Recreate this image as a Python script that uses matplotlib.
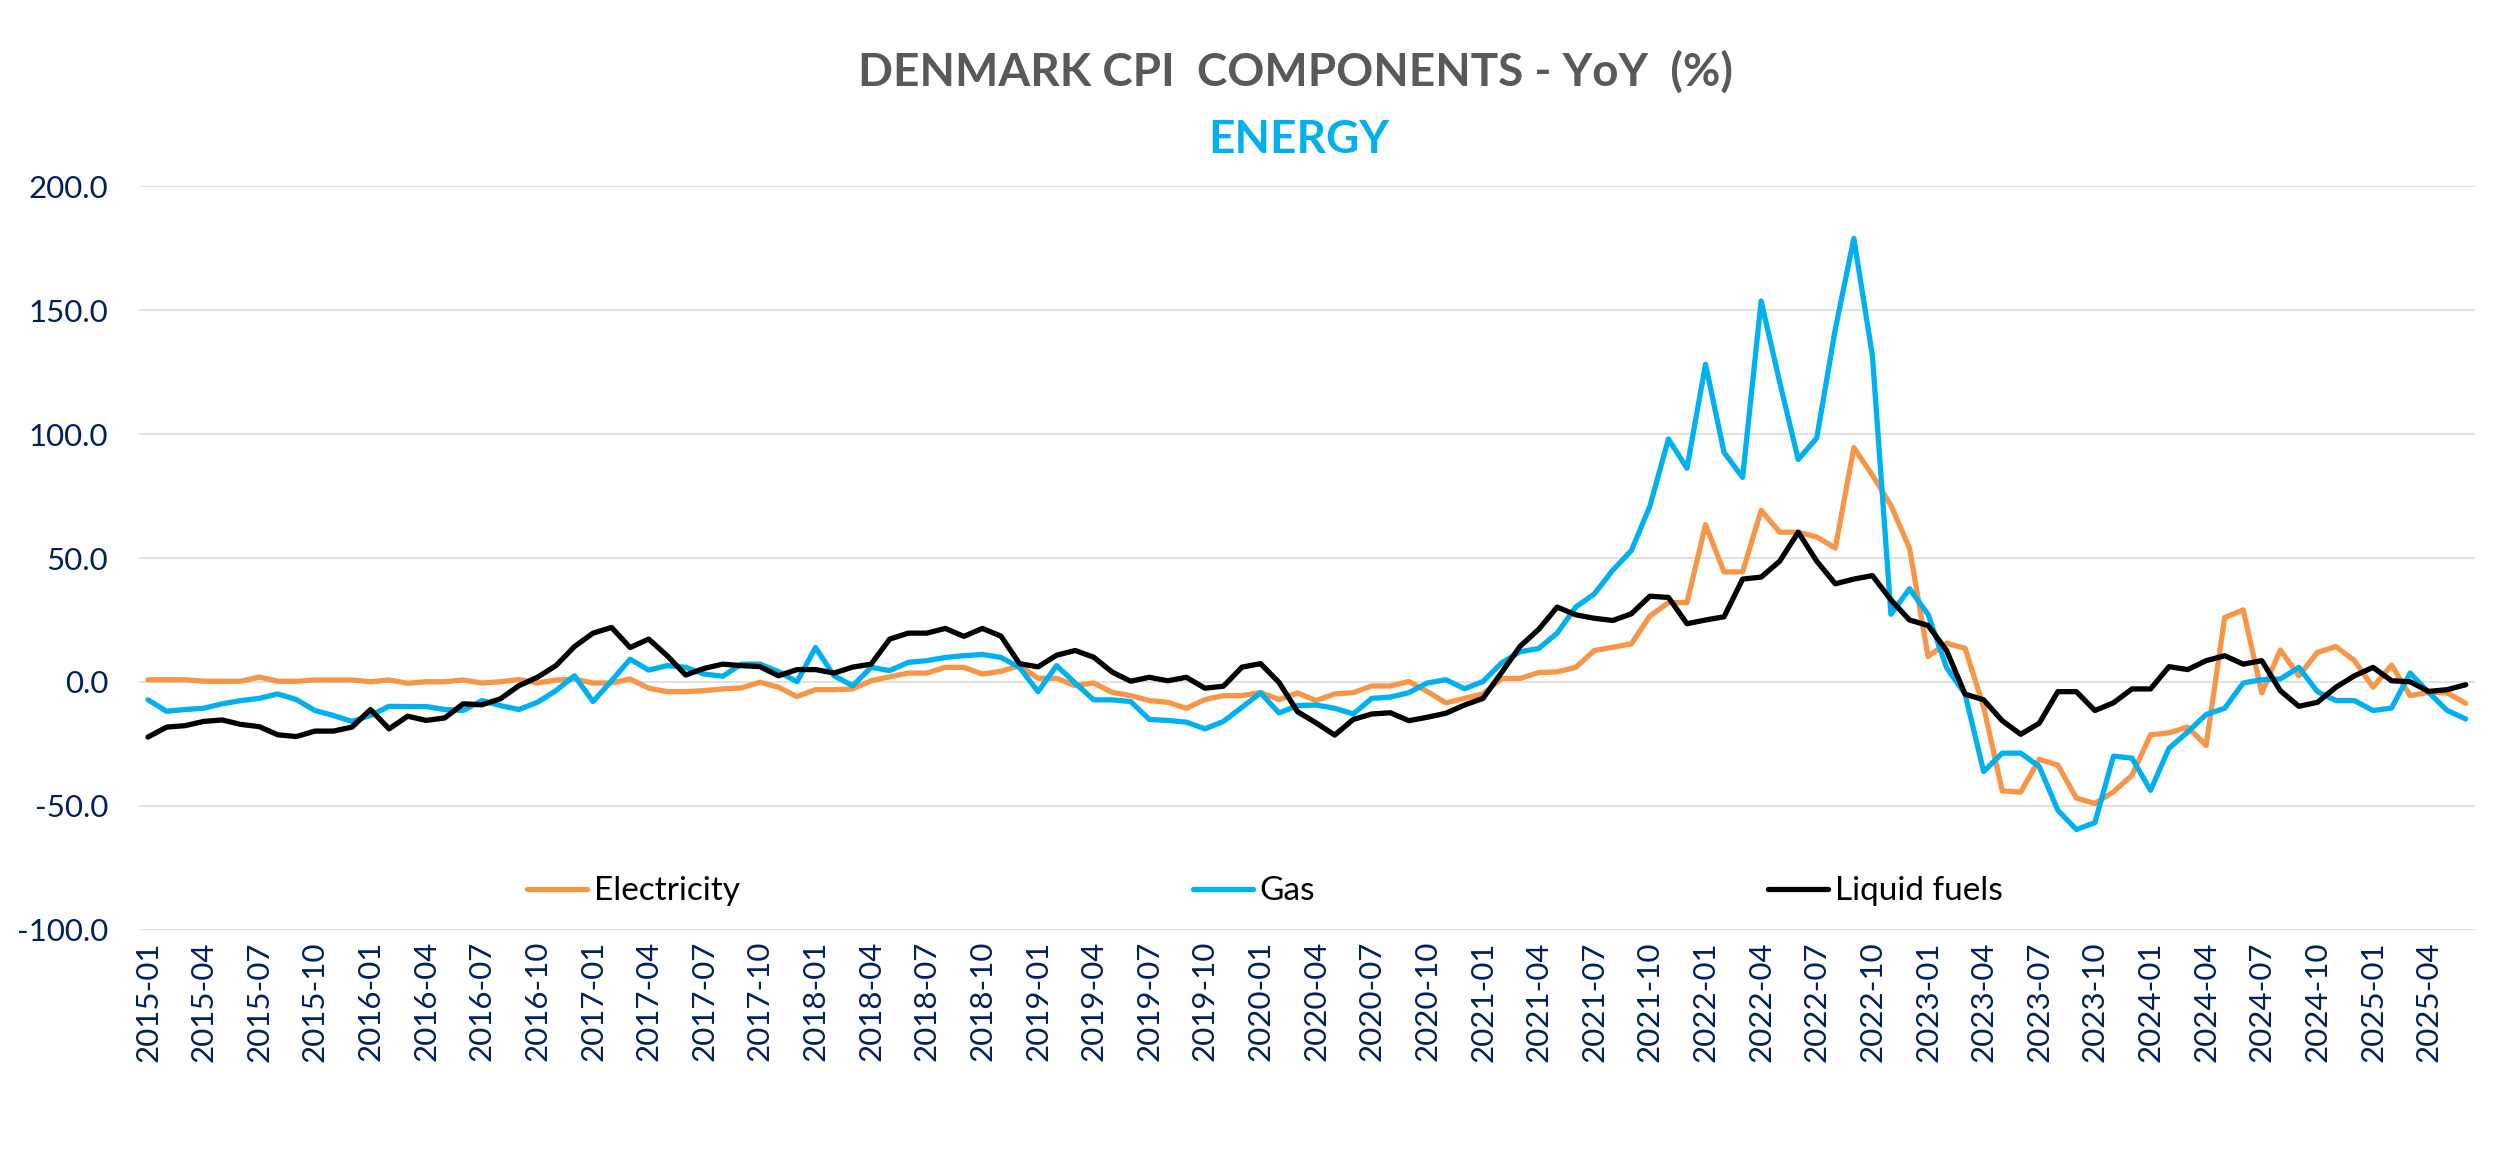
import matplotlib
matplotlib.use('Agg')
import matplotlib.pyplot as plt
from matplotlib.ticker import FormatStrFormatter
import numpy as np
import pandas as pd

plt.rcParams['font.family'] = ['Lato', 'DejaVu Sans']

# monthly YoY % change, 2015-01 .. 2025-06
months = [str(p) for p in pd.period_range('2015-01', '2025-06', freq='M')]

electricity = [
    0.9, 0.9, 0.9, 0.3, 0.3, 0.3, 2.0, 0.3, 0.3, 0.8, 0.8, 0.8,
    0.1, 0.8, -0.5, 0.1, 0.1, 0.8, -0.4, 0.1, 1.0, -0.4, 0.8, 1.2,
    -0.4, -0.4, 1.2, -2.5, -3.9, -3.9, -3.5, -2.8, -2.4, -0.1, -2.1, -5.9,
    -3.1, -3.1, -2.8, 0.5, 2.1, 3.6, 3.6, 5.9, 5.9, 3.2, 4.3, 6.6,
    1.5, 1.5, -1.5, -0.4, -4.2, -5.5, -7.5, -8.2, -10.6, -7.1, -5.5, -5.5,
    -4.2, -7.1, -4.4, -7.5, -4.8, -4.3, -1.6, -1.6, 0.2, -3.9, -8.4, -6.6,
    -4.8, 1.4, 1.4, 3.8, 4.1, 5.9, 12.7, 14.0, 15.4, 26.6, 32.0, 32.0,
    63.4, 44.4, 44.4, 69.2, 60.4, 60.4, 58.5, 54.0, 94.5, 83.4, 71.2, 54.0,
    10.3, 15.6, 13.6, -10.0, -43.9, -44.4, -31.2, -33.5, -46.8, -49.0, -44.3, -37.6,
    -21.3, -20.5, -18.2, -25.6, 26.0, 29.1, -4.4, 12.9, 2.5, 11.9, 14.3, 8.6,
    -2.1, 6.8, -5.5, -4.2, -4.4, -8.6,
]

gas = [
    -7.2, -11.8, -11.1, -10.6, -8.8, -7.5, -6.6, -4.8, -7.1, -11.5, -13.5, -15.9,
    -13.5, -9.8, -9.9, -9.9, -11.1, -11.5, -7.5, -9.5, -11.1, -8.2, -3.5, 2.5,
    -7.9, 0.5, 9.2, 4.8, 6.6, 5.9, 3.2, 2.3, 7.2, 7.2, 4.2, 0.1,
    13.9, 2.5, -1.5, 5.9, 4.6, 7.9, 8.6, 9.9, 10.6, 11.1, 9.9, 5.9,
    -3.9, 6.6, -0.4, -7.2, -7.2, -7.9, -15.1, -15.5, -16.2, -18.9, -15.9, -10.2,
    -4.4, -12.5, -9.5, -9.3, -10.6, -12.9, -6.6, -6.1, -4.3, -0.4, 0.9, -2.7,
    0.2, 7.7, 12.2, 13.5, 19.7, 30.2, 35.5, 45.1, 53.0, 70.9, 98.0, 86.2,
    128.1, 92.6, 82.5, 153.6, 120.9, 89.7, 98.4, 142.3, 178.9, 131.6, 27.3, 37.6,
    27.3, 5.8, -4.9, -36.1, -28.7, -28.7, -34.1, -51.7, -59.5, -56.7, -29.9, -30.7,
    -43.7, -26.7, -20.2, -13.1, -10.6, -0.4, 0.9, 1.2, 5.9, -3.9, -7.5, -7.5,
    -11.5, -10.5, 3.6, -4.2, -11.5, -14.9,
]

liquid_fuels = [
    -22.2, -18.2, -17.6, -15.9, -15.3, -17.1, -18.0, -21.3, -22.0, -19.8, -19.8, -18.2,
    -11.1, -18.9, -13.8, -15.5, -14.5, -8.8, -9.2, -6.8, -1.5, 1.9, 6.6, 14.3,
    19.7, 22.0, 13.9, 17.3, 10.6, 2.8, 5.5, 7.2, 6.6, 6.2, 2.5, 5.0,
    5.0, 3.6, 6.0, 7.2, 17.3, 19.7, 19.7, 21.6, 18.4, 21.6, 18.5, 7.4,
    6.1, 10.8, 12.7, 10.0, 4.0, 0.3, 1.9, 0.5, 1.9, -2.5, -1.7, 6.0,
    7.4, -0.2, -12.0, -16.5, -21.4, -15.1, -12.9, -12.4, -15.6, -14.2, -12.6, -9.3,
    -6.6, 3.8, 14.4, 21.2, 30.2, 27.1, 25.7, 24.8, 27.5, 34.6, 34.1, 23.5,
    25.0, 26.3, 41.5, 42.3, 48.7, 60.4, 48.7, 39.6, 41.5, 42.9, 33.1, 25.0,
    22.8, 12.7, -4.9, -7.2, -15.6, -21.1, -16.6, -3.9, -3.9, -11.5, -8.4, -2.8,
    -2.8, 6.2, 5.0, 8.6, 10.6, 7.2, 8.6, -3.5, -9.8, -8.2, -2.1, 2.5,
    5.9, 0.5, 0.1, -3.8, -3.1, -1.1,
]

series = [
    ('Electricity', electricity, '#F79646'),
    ('Gas', gas, '#00B0F0'),
    ('Liquid fuels', liquid_fuels, '#000000'),
]

navy = '#002060'

fig = plt.figure(figsize=(25, 11.67), dpi=100)
ax = fig.add_axes([0.0555, 0.2031, 0.9345, 0.6375])

x = np.arange(len(months))
for name, vals, col in series:
    ax.plot(x, vals, color=col, lw=3.8, label=name,
            solid_joinstyle='round', solid_capstyle='round', zorder=3)

ax.set_xlim(-0.5, len(months) - 0.5)
ax.set_ylim(-100, 200)
ax.set_yticks(np.arange(-100, 201, 50))
ax.yaxis.set_major_formatter(FormatStrFormatter('%.1f'))
ax.grid(axis='y', color='#D9D9D9', lw=1.1, zorder=0)
ax.set_xticks(x[::3])
ax.set_xticklabels(months[::3], rotation=90)
ax.tick_params(axis='both', length=0, labelsize=22.5, labelcolor=navy)
ax.tick_params(axis='y', pad=22)
ax.tick_params(axis='x', pad=8)
for s in ax.spines.values():
    s.set_visible(False)

leg = ax.legend(loc='center', bbox_to_anchor=(0.482, 0.052), ncol=3,
                frameon=False, fontsize=24, handlelength=1.8,
                handletextpad=0.2, columnspacing=13.6)

fig.text(0.518, 0.938, 'DENMARK CPI  COMPONENTS - YoY  (%)', ha='center', va='center',
         fontsize=33, fontweight='bold', color='#595959')
fig.text(0.5195, 0.880, 'ENERGY', ha='center', va='center',
         fontsize=33, fontweight='bold', color='#00B0F0')

fig.savefig('out.png', dpi=100)
